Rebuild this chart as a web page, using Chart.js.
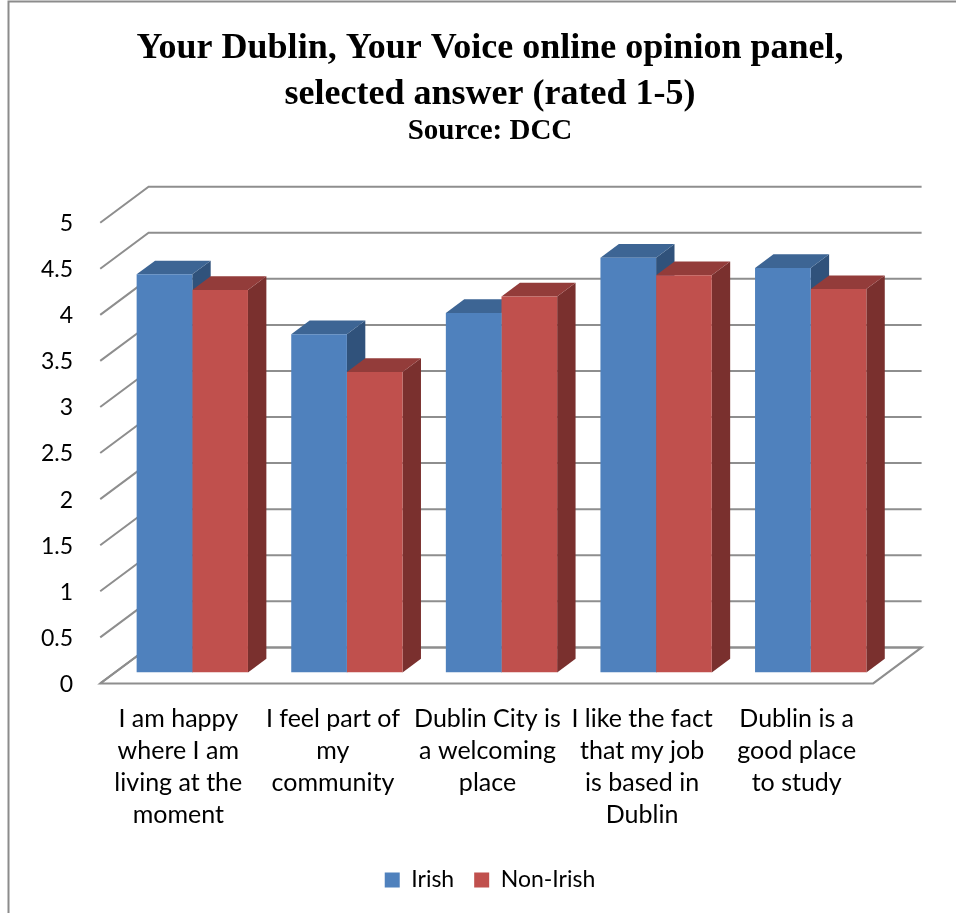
<!DOCTYPE html>
<html>
<head>
<meta charset="utf-8">
<script src="https://cdn.jsdelivr.net/npm/chart.js@4.4.1/dist/chart.umd.min.js"></script>
<style>
  html, body { margin: 0; padding: 0; background: #ffffff; }
  canvas { display: block; }
</style>
</head>
<body>
<canvas id="panel" width="956" height="913"></canvas>
<script>
// ---- data ----
const categories = [
  ['I am happy', 'where I am', 'living at the', 'moment'],
  ['I feel part of', 'my', 'community'],
  ['Dublin City is', 'a welcoming', 'place'],
  ['I like the fact', 'that my job', 'is based in', 'Dublin'],
  ['Dublin is a', 'good place', 'to study']
];
const seriesNames = ['Irish', 'Non-Irish'];
const irish = [4.32, 3.67, 3.90, 4.50, 4.39];
const nonIrish = [4.15, 3.26, 4.08, 4.31, 4.16];
const yTickValues = [0, 0.5, 1, 1.5, 2, 2.5, 3, 3.5, 4, 4.5, 5];
const yTickLabels = ['0', '0.5', '1', '1.5', '2', '2.5', '3', '3.5', '4', '4.5', '5'];
const titleLines = ['Your Dublin, Your Voice online opinion panel,', 'selected answer (rated 1-5)'];
const sourceLine = 'Source: DCC';

// ---- look ----
const FRONT = ['#4F81BD', '#C0504D'];
const TOP = ['#3D6594', '#933C3A'];
const SIDE = ['#30527B', '#7A302E'];
const GRID = '#8E8E8E';
const K = 1.344;        // horizontal shift per pixel of depth rise (oblique view)
const FRONT_DY = 11;    // bar plane -> front edge of floor
const BACK_DY = 25;     // bar plane -> back wall
const BAR_DY = 13.7;    // depth of each column

// Back wall, side wall and floor of the 3-D box, plus column tops and sides
const box3d = {
  id: 'box3d',
  beforeDatasetsDraw(chart) {
    const { ctx, chartArea: a, scales: { y } } = chart;
    const fx = a.left - FRONT_DY * K, bx = a.left + BACK_DY * K;
    const fxr = a.right - FRONT_DY * K, bxr = a.right + BACK_DY * K;
    ctx.save();
    ctx.lineWidth = 2;
    ctx.strokeStyle = GRID;
    ctx.lineJoin = 'miter';
    const y0 = y.getPixelForValue(0);
    // floor
    ctx.beginPath();
    ctx.moveTo(fx, y0 + FRONT_DY);
    ctx.lineTo(fxr, y0 + FRONT_DY);
    ctx.lineTo(bxr, y0 - BACK_DY);
    ctx.lineTo(bx, y0 - BACK_DY);
    ctx.closePath();
    ctx.fillStyle = '#ffffff';
    ctx.fill();
    ctx.stroke();
    // gridlines on back and side walls
    y.ticks.forEach(t => {
      const py = y.getPixelForValue(t.value);
      ctx.beginPath();
      ctx.moveTo(fx, py + FRONT_DY);
      ctx.lineTo(bx, py - BACK_DY);
      ctx.lineTo(bxr, py - BACK_DY);
      ctx.stroke();
    });
    ctx.restore();

    chart.data.datasets.forEach((ds, i) => {
      const meta = chart.getDatasetMeta(i);
      meta.data.forEach(bar => {
        const p = bar.getProps(['x', 'y', 'base', 'width'], true);
        const l = p.x - p.width / 2, r = p.x + p.width / 2;
        const dx = BAR_DY * K, dy = BAR_DY;
        ctx.save();
        ctx.fillStyle = SIDE[i];
        ctx.beginPath();
        ctx.moveTo(r, p.y);
        ctx.lineTo(r + dx, p.y - dy);
        ctx.lineTo(r + dx, p.base - dy);
        ctx.lineTo(r, p.base);
        ctx.closePath();
        ctx.fill();
        ctx.fillStyle = TOP[i];
        ctx.beginPath();
        ctx.moveTo(l, p.y);
        ctx.lineTo(r, p.y);
        ctx.lineTo(r + dx, p.y - dy);
        ctx.lineTo(l + dx, p.y - dy);
        ctx.closePath();
        ctx.fill();
        ctx.restore();
      });
    });
  }
};

// Thin frame round the chart
const frame = {
  id: 'frame',
  beforeDraw(chart) {
    const { ctx } = chart;
    ctx.save();
    ctx.strokeStyle = '#8C8C8C';
    ctx.lineWidth = 2;
    ctx.beginPath();
    ctx.moveTo(8.5, chart.height);
    ctx.lineTo(8.5, 1.5);
    ctx.lineTo(chart.width, 1.5);
    ctx.stroke();
    ctx.restore();
  }
};

const labelFont = { family: 'Lato', size: 25, lineHeight: 1.29 };

new Chart(document.getElementById('panel'), {
  type: 'bar',
  data: {
    labels: categories,
    datasets: [
      { label: seriesNames[0], data: irish, backgroundColor: FRONT[0], borderWidth: 0 },
      { label: seriesNames[1], data: nonIrish, backgroundColor: FRONT[1], borderWidth: 0 }
    ]
  },
  options: {
    responsive: false,
    animation: false,
    events: [],
    categoryPercentage: 0.72,
    barPercentage: 1.0,
    layout: { padding: { left: 24, right: 0, top: 0, bottom: 11.5 } },
    plugins: {
      title: {
        display: true,
        text: titleLines,
        color: '#000000',
        font: { family: 'Liberation Serif', size: 36, weight: 'bold', lineHeight: 1.28 },
        padding: { top: 26, bottom: 0 }
      },
      subtitle: {
        display: true,
        text: sourceLine,
        color: '#000000',
        font: { family: 'Liberation Serif', size: 29, weight: 'bold', lineHeight: 0.888 },
        padding: { top: 0, bottom: 67.8 }
      },
      legend: {
        position: 'bottom',
        labels: {
          font: { family: 'Lato', size: 23 },
          color: '#000000',
          boxWidth: 15,
          boxHeight: 15,
          padding: 20
        }
      },
      tooltip: { enabled: false }
    },
    scales: {
      x: {
        grid: { display: false, drawTicks: false },
        border: { display: false },
        ticks: {
          font: labelFont,
          color: '#000000',
          padding: 30,
          labelOffset: -14,
          maxRotation: 0,
          minRotation: 0,
          autoSkip: false
        },
        afterFit(s) { s.height = 176.1; }
      },
      y: {
        min: 0,
        max: 5,
        grid: { display: false, drawTicks: false },
        border: { display: false },
        ticks: {
          font: { family: 'Lato', size: 23 },
          color: '#000000',
          padding: 42,
          labelOffset: 12,
          callback: v => yTickLabels[yTickValues.indexOf(v)]
        },
        afterBuildTicks(s) { s.ticks = yTickValues.map(v => ({ value: v })); },
        afterFit(s) { s.width = 91; }
      },
      yRight: {
        type: 'linear',
        position: 'right',
        display: true,
        grid: { display: false, drawTicks: false },
        border: { display: false },
        ticks: { display: false },
        afterFit(s) { s.width = 68; }
      }
    }
  },
  plugins: [frame, box3d]
});
</script>
</body>
</html>
